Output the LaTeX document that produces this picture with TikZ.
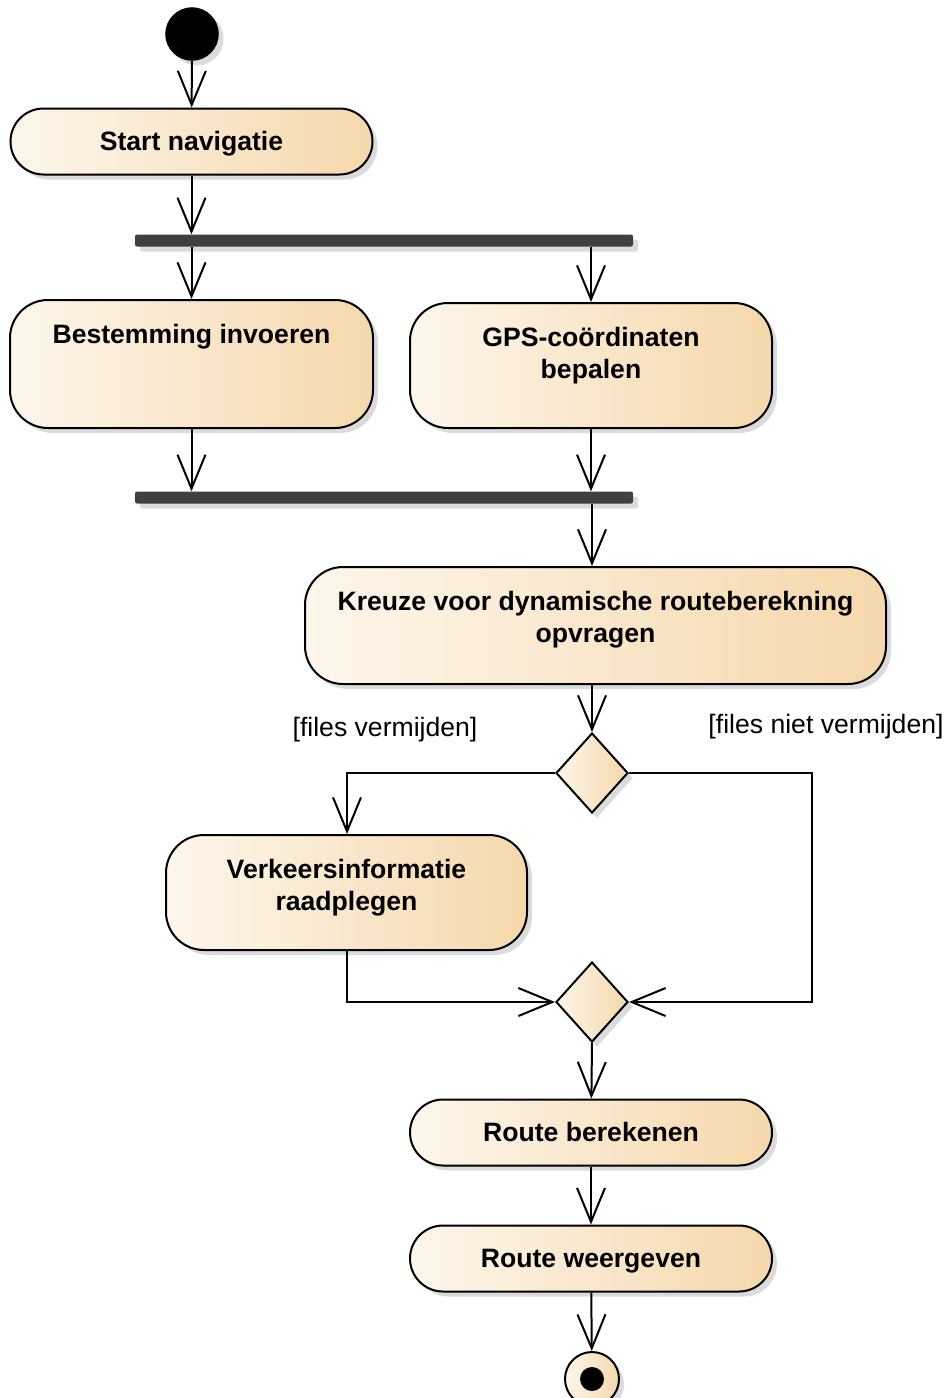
\documentclass[tikz,border=0pt]{standalone}
\usepackage{fontspec}
\setmainfont{Liberation Sans}
\usetikzlibrary{shapes.geometric,shadows,arrows.meta}
\definecolor{actL}{HTML}{FDF6EC}
\definecolor{actR}{HTML}{F5D8AC}
\definecolor{barc}{HTML}{404040}
\tikzset{
  shd/.style={drop shadow={shadow xshift=5pt,shadow yshift=-5pt,fill=black,opacity=0.14}},
  act/.style={draw=black,line width=2pt,left color=actL,right color=actR,shd,inner sep=0pt,
    font=\fontsize{26.6}{32.5}\selectfont\bfseries,align=center},
  pill/.style={act,rounded corners=33pt,minimum width=362pt,minimum height=66pt,text height=22pt,text depth=4pt},
  tall/.style={act,rounded corners=38pt},
  forkbar/.style={fill=barc,minimum width=498pt,minimum height=12pt,inner sep=0pt,rounded corners=2pt,shd},
  dec/.style={diamond,draw=black,line width=2pt,left color=actL,right color=actR,shd,
    minimum width=72pt,minimum height=80pt,inner sep=0pt},
  flow/.style={line width=2pt,-{Straight Barb[length=34pt,width=28pt,line width=2pt]}},
  guard/.style={font=\fontsize{26.6}{30}\selectfont,inner sep=0pt}
}
\begin{document}
\begin{tikzpicture}[x=1pt,y=-1pt]
\useasboundingbox (0,0) rectangle (948,1398);
\node[circle,fill=black,draw=black,minimum size=53pt,inner sep=0pt,shd] (start) at (192,34) {};
\node[pill] (startnav) at (191.5,141.5) {Start navigatie};
\node[forkbar] (bar1) at (384,240.5) {};
\node[tall,minimum width=363pt,text height=43pt,text depth=85pt] (best) at (191.5,364) {Bestemming invoeren};
\node[tall,minimum width=362pt,text height=75.5pt,text depth=49.5pt] (gps) at (591,365.5) {GPS-coördinaten\\bepalen};
\node[forkbar] (bar2) at (384,497.5) {};
\node[tall,minimum width=581pt,text height=75.5pt,text depth=41.5pt] (kreuze) at (595.5,625.5) {Kreuze voor dynamische routeberekning\\opvragen};
\node[dec] (d1) at (592,773) {};
\node[tall,minimum width=361pt,text height=75.5pt,text depth=39.5pt] (verkeer) at (346.5,892.5) {Verkeersinformatie\\raadplegen};
\node[dec] (d2) at (592,1002) {};
\node[pill] (rb) at (591,1132.5) {Route berekenen};
\node[pill] (rw) at (591,1258.5) {Route weergeven};
\node[circle,draw=black,line width=2pt,left color=actL,right color=actR,minimum size=54pt,inner sep=0pt,shd] (end) at (592,1379) {};
\node[circle,fill=black,minimum size=24pt,inner sep=0pt] (endin) at (end.center) {};
\node[guard] (g1) at (385,730) {[files vermijden]};
\node[guard] (g2) at (826,727) {[files niet vermijden]};
\coordinate (lc) at (347,773);
\coordinate (rc) at (812,773);
\coordinate (rc2) at (812,1002);
\coordinate (vc) at (347,1002);
\draw[flow] (start) -- (startnav);
\draw[flow] (startnav) -- (startnav |- bar1.north);
\draw[flow] (bar1.south -| best) -- (best);
\draw[flow] (bar1.south -| gps) -- (gps);
\draw[flow] (best) -- (best |- bar2.north);
\draw[flow] (gps) -- (gps |- bar2.north);
\draw[flow] (bar2.south -| d1) -- (kreuze.north -| d1);
\draw[flow] (kreuze.south -| d1) -- (d1.north);
\draw[flow] (d1.west) -- (lc) -- (verkeer.north -| lc);
\draw[flow] (d1.east) -- (rc) -- (rc2) -- (d2.east);
\draw[flow] (verkeer.south -| vc) -- (vc) -- (d2.west);
\draw[flow] (d2.south) -- (rb);
\draw[flow] (rb) -- (rw);
\draw[flow] (rw) -- (end);
\end{tikzpicture}
\end{document}
